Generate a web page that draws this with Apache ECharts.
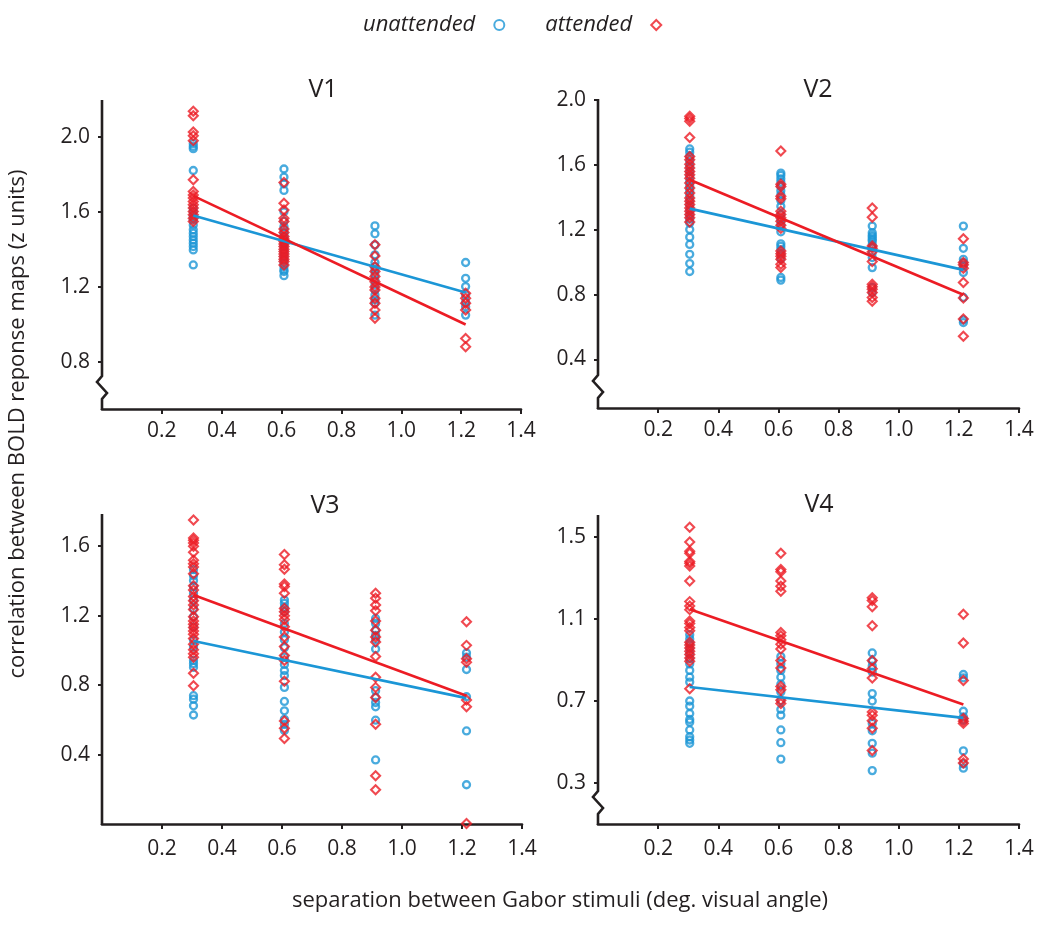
<!DOCTYPE html>
<html>
<head>
<meta charset="utf-8">
<script src="https://cdn.jsdelivr.net/npm/echarts@6/dist/echarts.min.js"></script>
<style>
html,body{margin:0;padding:0;background:#fff;}
#chart{width:1050px;height:930px;}
</style>
</head>
<body>
<div id="chart"></div>
<script>
// ---------- data ----------
const xPos = [0.305, 0.608, 0.912, 1.215];
const xTicks = [0.2, 0.4, 0.6, 0.8, 1.0, 1.2, 1.4];
const panelTitles = ['V1', 'V2', 'V3', 'V4'];
const yTicksV1 = [0.8, 1.2, 1.6, 2.0];
const yTicksV2 = [0.4, 0.8, 1.2, 1.6, 2.0];
const yTicksV3 = [0.4, 0.8, 1.2, 1.6];
const yTicksV4 = [0.3, 0.7, 1.1, 1.5];
const yRangeV1 = [0.55, 2.19];
const yRangeV2 = [0.1, 2.0];
const yRangeV3 = [0.0, 1.78];
const yRangeV4 = [0.1, 1.6];

const v1Unatt = [
  [1.963, 1.948, 1.936, 1.82, 1.62, 1.6, 1.575, 1.557, 1.53, 1.504, 1.486, 1.468, 1.45, 1.433, 1.415, 1.397, 1.317],
  [1.828, 1.785, 1.749, 1.714, 1.6, 1.55, 1.522, 1.504, 1.486, 1.468, 1.45, 1.432, 1.415, 1.397, 1.38, 1.362, 1.344, 1.326, 1.308, 1.29, 1.282, 1.26],
  [1.525, 1.483, 1.424, 1.371, 1.33, 1.308, 1.29, 1.264, 1.237, 1.21, 1.184, 1.157, 1.13, 1.113, 1.05],
  [1.33, 1.246, 1.202, 1.157, 1.12, 1.095, 1.05]
];
const v1Att = [
  [2.135, 2.112, 2.025, 2.005, 1.979, 1.771, 1.708, 1.69, 1.673, 1.655, 1.637, 1.62, 1.602, 1.584, 1.566, 1.548],
  [1.756, 1.646, 1.61, 1.566, 1.548, 1.508, 1.49, 1.468, 1.455, 1.442, 1.428, 1.415, 1.4, 1.388, 1.375, 1.362, 1.348, 1.335, 1.317],
  [1.424, 1.365, 1.308, 1.282, 1.255, 1.228, 1.2, 1.184, 1.14, 1.113, 1.077, 1.033],
  [1.166, 1.14, 1.113, 1.077, 0.926, 0.882]
];
const v2Unatt = [
  [1.698, 1.678, 1.651, 1.62, 1.59, 1.559, 1.53, 1.498, 1.47, 1.44, 1.41, 1.38, 1.35, 1.32, 1.29, 1.265, 1.242, 1.201, 1.154, 1.109, 1.048, 0.991, 0.942],
  [1.549, 1.535, 1.514, 1.494, 1.467, 1.44, 1.416, 1.38, 1.344, 1.293, 1.26, 1.232, 1.187, 1.113, 1.097, 1.077, 1.05, 1.02, 0.905, 0.889],
  [1.222, 1.181, 1.165, 1.154, 1.14, 1.13, 1.109, 1.09, 1.058, 1.028, 0.966, 0.844, 0.813],
  [1.222, 1.085, 1.017, 0.997, 0.977, 0.936, 0.782, 0.643, 0.627]
];
const v2Att = [
  [1.90, 1.886, 1.869, 1.768, 1.651, 1.631, 1.604, 1.58, 1.559, 1.539, 1.518, 1.488, 1.457, 1.426, 1.396, 1.375, 1.355, 1.334, 1.314, 1.293, 1.273, 1.248],
  [1.686, 1.481, 1.467, 1.406, 1.391, 1.314, 1.293, 1.273, 1.252, 1.228, 1.208, 1.069, 1.052, 1.036, 1.017, 0.987, 0.966],
  [1.334, 1.277, 1.099, 1.085, 1.064, 1.003, 0.864, 0.848, 0.833, 0.813, 0.782, 0.758],
  [1.144, 0.997, 0.983, 0.962, 0.874, 0.778, 0.649, 0.543]
];
const v3Unatt = [
  [1.465, 1.43, 1.403, 1.368, 1.329, 1.29, 1.242, 1.194, 1.136, 1.058, 1.019, 0.942, 0.923, 0.903, 0.739, 0.719, 0.681, 0.628],
  [1.29, 1.271, 1.248, 1.223, 1.155, 1.106, 1.062, 1.016, 0.961, 0.919, 0.884, 0.855, 0.787, 0.706, 0.652, 0.603, 0.574, 0.539],
  [1.184, 1.155, 1.116, 1.087, 1.062, 1.008, 0.768, 0.729, 0.7, 0.675, 0.598, 0.369],
  [0.985, 0.961, 0.89, 0.733, 0.536, 0.226]
];
const v3Att = [
  [1.751, 1.648, 1.635, 1.619, 1.6, 1.565, 1.519, 1.499, 1.48, 1.441, 1.372, 1.348, 1.31, 1.286, 1.261, 1.236, 1.194, 1.17, 1.151, 1.132, 1.112, 1.093, 1.068, 1.035, 1.004, 0.981, 0.961, 0.868, 0.797],
  [1.552, 1.494, 1.468, 1.383, 1.368, 1.329, 1.242, 1.223, 1.199, 1.178, 1.136, 1.077, 1.023, 0.971, 0.942, 0.822, 0.594, 0.551, 0.493],
  [1.329, 1.3, 1.261, 1.228, 1.17, 1.116, 1.077, 1.048, 0.965, 0.845, 0.787, 0.729, 0.574, 0.278, 0.197],
  [1.165, 1.029, 0.952, 0.932, 0.714, 0.675, 0.003]
];
const v4Unatt = [
  [1.022, 1.001, 0.98, 0.955, 0.93, 0.905, 0.88, 0.848, 0.815, 0.791, 0.699, 0.674, 0.638, 0.609, 0.596, 0.558, 0.525, 0.509, 0.493],
  [0.915, 0.88, 0.848, 0.815, 0.78, 0.743, 0.7, 0.658, 0.63, 0.558, 0.496, 0.416],
  [0.933, 0.893, 0.869, 0.84, 0.735, 0.699, 0.59, 0.554, 0.493, 0.445, 0.36],
  [0.828, 0.812, 0.649, 0.622, 0.606, 0.456, 0.393, 0.372]
];
const v4Att = [
  [1.545, 1.473, 1.428, 1.418, 1.379, 1.37, 1.357, 1.283, 1.183, 1.162, 1.144, 1.089, 1.076, 1.057, 1.041, 0.985, 0.972, 0.957, 0.941, 0.925, 0.909, 0.893, 0.759],
  [1.419, 1.339, 1.328, 1.283, 1.258, 1.234, 1.033, 1.017, 0.997, 0.976, 0.952, 0.896, 0.86, 0.77, 0.754, 0.703, 0.687],
  [1.202, 1.189, 1.158, 1.065, 0.896, 0.856, 0.811, 0.646, 0.63, 0.603, 0.566, 0.458],
  [1.121, 0.981, 0.799, 0.614, 0.601, 0.59, 0.416, 0.397]
];
// regression line end values (at first and last separation)
const v1UnattFit = [1.58, 1.17];
const v1AttFit = [1.685, 1.0];
const v2UnattFit = [1.33, 0.952];
const v2AttFit = [1.508, 0.799];
const v3UnattFit = [1.054, 0.725];
const v3AttFit = [1.319, 0.739];
const v4UnattFit = [0.767, 0.617];
const v4AttFit = [1.146, 0.682];

// ---------- styling ----------
const BLUE = '#1b96d6';
const RED = '#ec1c24';
const INK = '#231f20';
const FONT = '"Open Sans", "Noto Sans", sans-serif';

const panels = [
  {title: panelTitles[0], unatt: v1Unatt, att: v1Att, uFit: v1UnattFit, aFit: v1AttFit, ticks: yTicksV1, range: yRangeV1, brk: true,
   grid: {left: 102, top: 101, width: 419, height: 308}, titlePos: [323, 72], xMargin: 12},
  {title: panelTitles[1], unatt: v2Unatt, att: v2Att, uFit: v2UnattFit, aFit: v2AttFit, ticks: yTicksV2, range: yRangeV2, brk: true,
   grid: {left: 598, top: 100, width: 421, height: 308}, titlePos: [818, 72], xMargin: 12},
  {title: panelTitles[2], unatt: v3Unatt, att: v3Att, uFit: v3UnattFit, aFit: v3AttFit, ticks: yTicksV3, range: yRangeV3, brk: false,
   grid: {left: 102, top: 515, width: 420, height: 309}, titlePos: [325, 488], xMargin: 15},
  {title: panelTitles[3], unatt: v4Unatt, att: v4Att, uFit: v4UnattFit, aFit: v4AttFit, ticks: yTicksV4, range: yRangeV4, brk: true,
   grid: {left: 598, top: 516, width: 421, height: 308}, titlePos: [819, 487], xMargin: 15}
];

function toPoints(cols) {
  const out = [];
  cols.forEach((col, i) => col.forEach(v => out.push([xPos[i], v])));
  return out;
}
function fitPoints(fit) {
  return [[xPos[0], fit[0]], [xPos[xPos.length - 1], fit[1]]];
}

const grids = [], xAxes = [], yAxes = [], series = [], titles = [];
panels.forEach((p, i) => {
  grids.push(Object.assign({containLabel: false}, p.grid));
  titles.push({
    text: p.title, left: p.titlePos[0] - 5, top: p.titlePos[1], textAlign: 'center',
    textStyle: {fontFamily: FONT, fontSize: 25, fontWeight: 'normal', color: INK}
  });
  xAxes.push({
    type: 'value', gridIndex: i, min: 0, max: 1.4, interval: 0.2,
    axisLine: {show: true, onZero: false, lineStyle: {color: INK, width: 2.6}},
    axisTick: {show: true, length: 5, lineStyle: {color: INK, width: 2}, customValues: xTicks},
    axisLabel: {show: true, margin: p.xMargin, fontFamily: FONT, fontSize: 21, color: INK, customValues: xTicks,
      formatter: v => Number(v).toFixed(1)},
    splitLine: {show: false}
  });
  yAxes.push({
    type: 'value', gridIndex: i, min: p.range[0], max: p.range[1],
    axisLine: {show: false},
    axisTick: {show: true, length: 4, lineStyle: {color: INK, width: 2}, customValues: p.ticks},
    axisLabel: {show: true, margin: 12, fontFamily: FONT, fontSize: 21, color: INK, customValues: p.ticks,
      formatter: v => Number(v).toFixed(1)},
    splitLine: {show: false}
  });
  series.push({
    name: 'unattended', type: 'scatter', xAxisIndex: i, yAxisIndex: i,
    symbol: 'circle', symbolSize: 7, symbolKeepAspect: true,
    itemStyle: {color: 'rgba(255,255,255,0)', borderColor: BLUE, borderWidth: 2.3},
    data: toPoints(p.unatt), z: 2
  });
  series.push({
    name: 'attended', type: 'scatter', xAxisIndex: i, yAxisIndex: i,
    symbol: 'diamond', symbolSize: 9, symbolKeepAspect: true,
    itemStyle: {color: 'rgba(255,255,255,0)', borderColor: RED, borderWidth: 2.1},
    data: toPoints(p.att), z: 3
  });
  series.push({
    name: 'unattended fit', type: 'line', xAxisIndex: i, yAxisIndex: i,
    symbol: 'none', lineStyle: {color: BLUE, width: 2.6}, itemStyle: {color: BLUE},
    data: fitPoints(p.uFit), z: 4, silent: true
  });
  series.push({
    name: 'attended fit', type: 'line', xAxisIndex: i, yAxisIndex: i,
    symbol: 'none', lineStyle: {color: RED, width: 2.6}, itemStyle: {color: RED},
    data: fitPoints(p.aFit), z: 5, silent: true
  });
});

const chart = echarts.init(document.getElementById('chart'), null, {renderer: 'canvas'});
chart.setOption({
  backgroundColor: '#ffffff',
  animation: false,
  title: titles,
  legend: {
    data: [{name: 'unattended', icon: 'circle'}, {name: 'attended', icon: 'diamond'}],
    left: 358, top: 9, orient: 'horizontal', align: 'right',
    itemWidth: 10, itemHeight: 10, itemGap: 40, symbolKeepAspect: true,
    textStyle: {fontFamily: FONT, fontSize: 22, fontStyle: 'italic', color: INK, padding: [0, 14, 0, 0]},
    selectedMode: false
  },
  grid: grids,
  xAxis: xAxes,
  yAxis: yAxes,
  series: series
});

// y-axis lines (with a zig-zag axis-break mark where the axis does not start at zero)
const graphics = [];
panels.forEach((p, i) => {
  const top = chart.convertToPixel({gridIndex: i}, [0, p.range[1]]);
  const bot = chart.convertToPixel({gridIndex: i}, [0, p.range[0]]);
  const x0 = top[0], yT = top[1], yB = bot[1];
  let pts;
  if (p.brk) {
    pts = [[x0, yT - 1], [x0, yB - 33], [x0 - 5, yB - 27], [x0 + 5, yB - 16], [x0, yB - 10], [x0, yB + 1]];
  } else {
    pts = [[x0, yT - 1], [x0, yB + 1]];
  }
  graphics.push({
    type: 'polyline', shape: {points: pts}, z: 10,
    style: {stroke: INK, lineWidth: 2.6, fill: null, lineJoin: 'miter'}
  });
});
graphics.push({
  type: 'text', x: 18, y: 424, rotation: Math.PI / 2,
  style: {text: 'correlation between BOLD reponse maps (z units)', fill: INK,
    font: '22px ' + FONT, textAlign: 'center', textVerticalAlign: 'middle'}
});
graphics.push({
  type: 'text', x: 560, y: 901,
  style: {text: 'separation between Gabor stimuli (deg. visual angle)', fill: INK,
    font: '22px ' + FONT, textAlign: 'center', textVerticalAlign: 'middle'}
});
chart.setOption({graphic: graphics});
</script>
</body>
</html>
